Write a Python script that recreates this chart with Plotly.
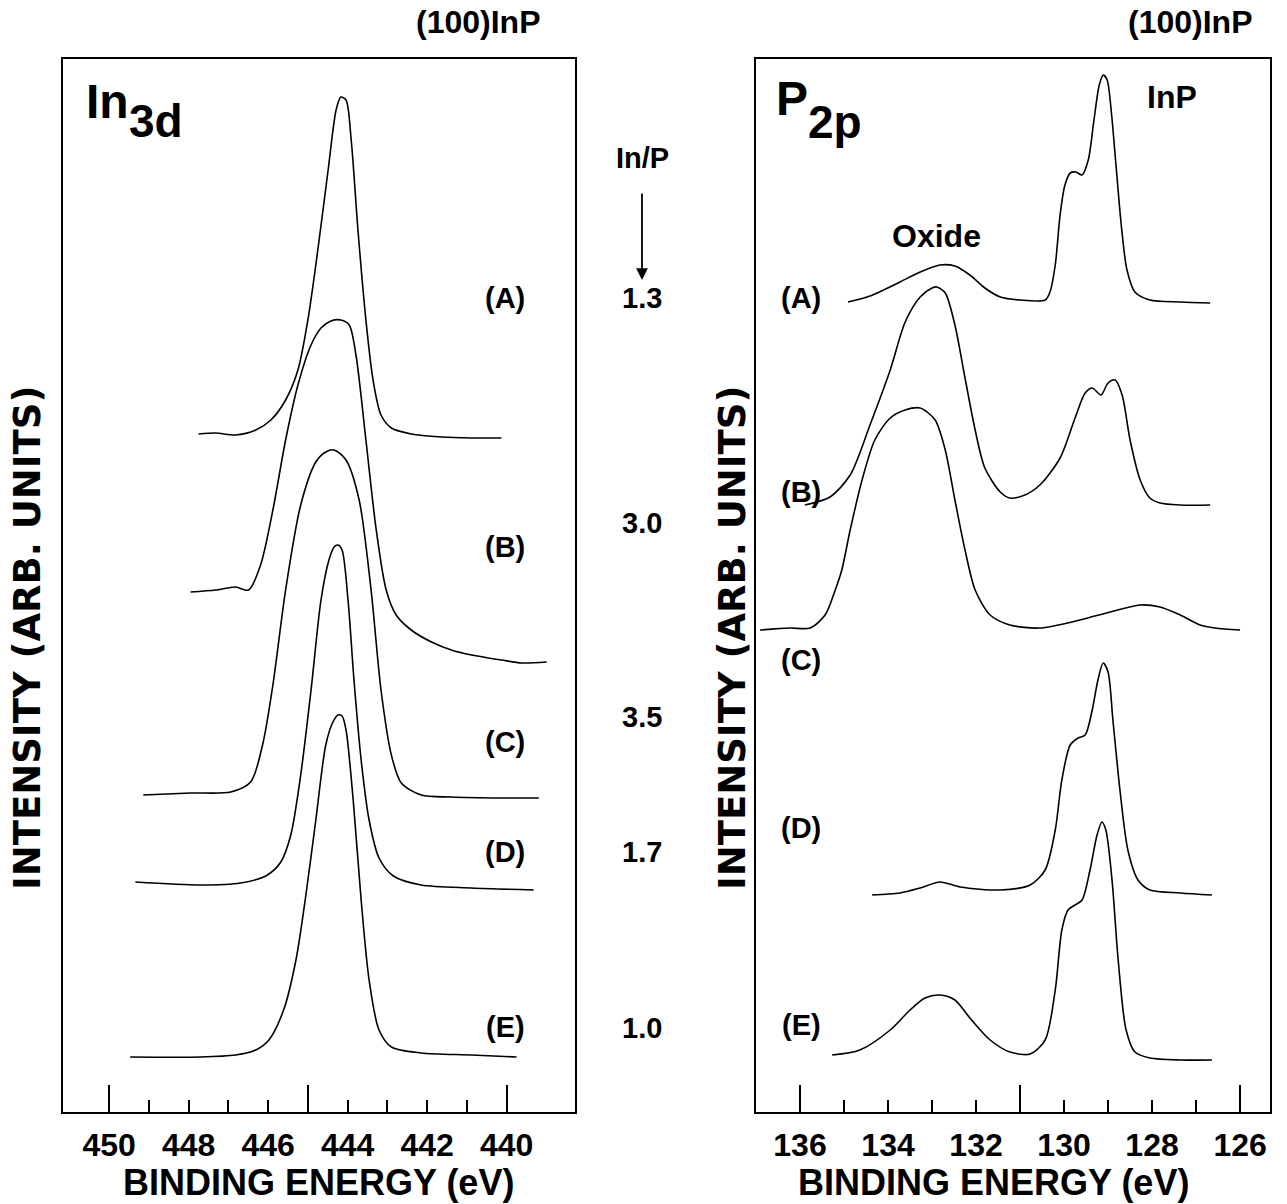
import plotly.graph_objects as go

W, H = 1287, 1204

# ---------------- In 3d panel data (binding energy eV, intensity arb.) ----------------
in_A_x = [447.75, 447.32, 446.82, 446.31, 445.93, 445.56, 445.25, 445.00, 444.75, 444.49, 444.29, 444.17,
          444.04, 443.91, 443.74, 443.54, 443.36, 443.16, 442.90, 442.40, 441.64, 440.88, 440.13]
in_A_y = [67.8, 67.9, 67.7, 68.2, 69.2, 71.2, 74.2, 79.2, 86.2, 94.2, 100.2, 101.5,
          101.2, 97.2, 88.2, 79.2, 73.2, 69.7, 68.4, 67.8, 67.5, 67.4, 67.4]

in_B_x = [447.95, 447.32, 446.82, 446.49, 446.19, 445.88, 445.56, 445.25, 444.92, 444.67, 444.42, 444.17,
          443.96, 443.79, 443.54, 443.28, 443.03, 442.78, 442.40, 441.89, 441.39, 440.88, 440.13, 439.62, 438.99]
in_B_y = [52.0, 52.2, 52.5, 52.2, 54.7, 60.2, 67.2, 72.7, 76.7, 78.4, 79.1, 79.2,
          78.7, 75.7, 67.2, 58.2, 52.2, 49.7, 48.2, 47.0, 46.2, 45.7, 45.2, 44.9, 45.0]

in_C_x = [449.14, 447.95, 446.94, 446.44, 446.14, 445.88, 445.56, 445.18, 444.80, 444.55, 444.34, 444.04,
          443.71, 443.41, 443.16, 442.90, 442.65, 442.15, 441.39, 440.13, 439.19]
in_C_y = [31.7, 31.9, 32.0, 33.0, 36.7, 42.7, 52.2, 60.7, 65.0, 66.0, 66.2, 65.2,
          61.2, 52.2, 42.2, 35.7, 32.9, 31.7, 31.5, 31.4, 31.4]

in_D_x = [449.34, 447.70, 446.69, 446.06, 445.68, 445.43, 445.18, 444.92, 444.67, 444.47, 444.34, 444.24,
          444.14, 443.99, 443.84, 443.66, 443.46, 443.21, 442.85, 442.15, 440.88, 439.32]
in_D_y = [23.0, 22.7, 22.9, 23.6, 25.0, 27.7, 33.7, 42.2, 51.2, 55.2, 56.5, 56.7,
          56.2, 51.2, 43.2, 35.2, 29.2, 25.4, 23.6, 22.7, 22.4, 22.2]

in_E_x = [449.47, 447.70, 446.82, 446.31, 445.98, 445.61, 445.30, 445.05, 444.80, 444.55, 444.37, 444.24,
          444.14, 444.04, 443.86, 443.66, 443.46, 443.21, 442.90, 442.15, 440.88, 439.75]
in_E_y = [5.5, 5.5, 5.7, 6.2, 7.2, 10.2, 15.2, 21.7, 29.2, 36.7, 39.0, 39.7,
          39.6, 38.2, 31.2, 21.2, 13.2, 8.2, 6.5, 5.9, 5.7, 5.5]

# ---------------- P 2p panel data ----------------
p_A_x = [134.91, 134.41, 133.73, 133.27, 132.82, 132.48, 132.14, 131.80, 131.45, 131.00, 130.43, 130.32,
         130.20, 130.09, 129.98, 129.86, 129.73, 129.59, 129.45, 129.32, 129.20, 129.11, 129.02, 128.93,
         128.82, 128.70, 128.57, 128.39, 128.05, 127.36, 126.68]
p_A_y = [81.0, 81.6, 83.0, 84.0, 84.7, 84.6, 83.7, 82.4, 81.5, 81.2, 81.2, 82.0,
         84.7, 89.7, 92.7, 93.9, 94.0, 93.7, 95.2, 99.2, 102.7, 103.7, 103.2, 100.2,
         94.7, 88.7, 84.2, 82.0, 81.2, 81.0, 80.9]

p_B_x = [135.89, 135.32, 134.86, 134.41, 133.95, 133.61, 133.27, 133.00, 132.89, 132.70, 132.48, 132.25,
         132.02, 131.80, 131.45, 131.23, 130.89, 130.55, 130.09, 129.75, 129.52, 129.36, 129.16, 129.00,
         128.84, 128.68, 128.50, 128.27, 128.05, 127.82, 127.36, 126.68]
p_B_y = [60.7, 61.5, 63.7, 68.7, 74.2, 79.0, 81.5, 82.4, 82.5, 81.9, 78.7, 73.4,
         68.2, 64.4, 62.0, 61.4, 61.7, 62.7, 65.4, 69.4, 71.9, 72.4, 71.7, 72.9,
         73.2, 71.7, 67.2, 63.2, 61.4, 60.9, 60.7, 60.7]

p_C_x = [136.91, 136.23, 135.77, 135.43, 135.20, 135.05, 134.86, 134.59, 134.30, 133.95, 133.61, 133.27,
         132.93, 132.70, 132.48, 132.25, 132.02, 131.68, 131.23, 130.55, 129.64, 128.95, 128.27, 127.82,
         127.36, 126.91, 126.57, 126.00]
p_C_y = [48.2, 48.4, 48.4, 49.7, 52.2, 54.2, 58.2, 63.2, 67.2, 69.4, 70.2, 70.4,
         69.2, 66.2, 61.2, 56.2, 52.2, 49.7, 48.7, 48.4, 49.2, 50.0, 50.7, 50.5,
         49.7, 48.7, 48.4, 48.2]

p_D_x = [134.36, 133.73, 133.27, 132.82, 132.36, 131.45, 130.77, 130.43, 130.20, 130.05, 129.86, 129.68,
         129.52, 129.36, 129.23, 129.11, 129.00, 128.89, 128.73, 128.55, 128.32, 128.05, 127.36, 126.64]
p_D_y = [21.7, 21.9, 22.4, 23.0, 22.5, 22.2, 22.7, 24.2, 28.2, 33.2, 36.7, 37.4,
         37.7, 40.2, 43.2, 44.9, 44.0, 39.2, 32.2, 26.2, 23.2, 22.2, 21.9, 21.7]

p_E_x = [135.27, 134.64, 133.95, 133.50, 133.16, 132.82, 132.48, 132.14, 131.68, 131.23, 130.77, 130.43,
         130.20, 130.05, 129.91, 129.75, 129.59, 129.41, 129.25, 129.14, 129.05, 128.91, 128.77, 128.59,
         128.39, 128.05, 127.36, 126.64]
p_E_y = [5.7, 6.2, 8.2, 10.2, 11.4, 11.7, 11.2, 9.4, 7.2, 6.0, 5.8, 7.2,
         12.2, 18.2, 20.2, 20.7, 21.2, 24.2, 27.7, 29.0, 28.2, 23.2, 15.2, 8.2,
         6.0, 5.4, 5.2, 5.2]

sample_labels = ["(A)", "(B)", "(C)", "(D)", "(E)"]
in_p_ratios = ["1.3", "3.0", "3.5", "1.7", "1.0"]

in_label_vals = [450, 448, 446, 444, 442, 440]
in_minor_vals = [449, 447, 445, 443, 441]
in_long_vals = [450, 445, 440]
p_label_vals = [136, 134, 132, 130, 128, 126]
p_minor_vals = [135, 133, 131, 129, 127]
p_long_vals = [136, 131, 126]

FONT = "Liberation Sans, Arial, Helvetica, sans-serif"
WIDE = "DejaVu Sans, Verdana, sans-serif"
LINE = dict(color="black", width=1.6)

def px(x):
    return x / W

def py(y):
    return 1 - y / H

fig = go.Figure()
for xs, ys in [(in_A_x, in_A_y), (in_B_x, in_B_y), (in_C_x, in_C_y), (in_D_x, in_D_y), (in_E_x, in_E_y)]:
    fig.add_trace(go.Scatter(x=xs, y=ys, mode="lines", line=dict(shape="spline", smoothing=0.8, **LINE),
                             xaxis="x", yaxis="y", showlegend=False, hoverinfo="skip"))
for xs, ys in [(p_A_x, p_A_y), (p_B_x, p_B_y), (p_C_x, p_C_y), (p_D_x, p_D_y), (p_E_x, p_E_y)]:
    fig.add_trace(go.Scatter(x=xs, y=ys, mode="lines", line=dict(shape="spline", smoothing=0.8, **LINE),
                             xaxis="x2", yaxis="y2", showlegend=False, hoverinfo="skip"))

# invisible traces so that the long-tick overlay axes are drawn
fig.add_trace(go.Scatter(x=[445], y=[-10], mode="markers", marker=dict(opacity=0), xaxis="x3", yaxis="y",
                         showlegend=False, hoverinfo="skip"))
fig.add_trace(go.Scatter(x=[131], y=[-10], mode="markers", marker=dict(opacity=0), xaxis="x4", yaxis="y2",
                         showlegend=False, hoverinfo="skip"))

dom1 = [63 / W, 575 / W]
dom2 = [756 / W, 1270 / W]
ydom = [1 - 1112 / H, 1 - 59 / H]
r1 = [451.16, 438.28]
r2 = [137.0, 125.32]

tickfont = dict(family=FONT, size=32, color="black", weight="bold")

def main_x(dom, rng, vals, minor_vals, anchor):
    return dict(domain=dom, range=rng, anchor=anchor, showgrid=False, zeroline=False,
                showline=True, linecolor="black", linewidth=2, mirror=True,
                ticks="inside", ticklen=12, tickwidth=1.8, tickcolor="black",
                tickmode="array", tickvals=vals, ticktext=[str(v) for v in vals],
                minor=dict(tickmode="array", tickvals=minor_vals, ticks="inside", ticklen=12,
                           tickwidth=1.8, tickcolor="black", showgrid=False),
                tickfont=tickfont, ticklabelstandoff=4)

def long_x(over, rng, vals, anchor):
    return dict(overlaying=over, range=rng, anchor=anchor, showgrid=False, zeroline=False,
                showline=False, ticks="inside", ticklen=27, tickwidth=1.8, tickcolor="black",
                tickmode="array", tickvals=vals, showticklabels=False)

def y_ax(dom, anchor):
    return dict(domain=dom, range=[0, 105.3], anchor=anchor, showgrid=False, zeroline=False,
                showline=True, linecolor="black", linewidth=2, mirror=True,
                ticks="", showticklabels=False)

fig.update_layout(
    width=W, height=H, margin=dict(l=0, r=0, t=0, b=0),
    paper_bgcolor="white", plot_bgcolor="white",
    xaxis=main_x(dom1, r1, in_label_vals, in_minor_vals, "y"),
    xaxis2=main_x(dom2, r2, p_label_vals, p_minor_vals, "y2"),
    xaxis3=long_x("x", r1, in_long_vals, "y"),
    xaxis4=long_x("x2", r2, p_long_vals, "y2"),
    yaxis=y_ax(ydom, "x"),
    yaxis2=y_ax(ydom, "x2"),
)

ann = []
def txt(x, y, s, size, family=FONT, xanchor="center", angle=0):
    ann.append(dict(x=px(x), y=py(y), xref="paper", yref="paper", text=s, showarrow=False,
                    font=dict(family=family, size=size, color="black", weight="bold"),
                    xanchor=xanchor, yanchor="middle", textangle=angle))

# axis titles
txt(318, 1182, "BINDING ENERGY (eV)", 36)
txt(993, 1182, "BINDING ENERGY (eV)", 36)
txt(27, 638, "INTENSITY (ARB. UNITS)", 37, family=WIDE, angle=-90)
txt(732, 638, "INTENSITY (ARB. UNITS)", 37, family=WIDE, angle=-90)

# panel headers
txt(478, 22, "(100)InP", 32)
txt(1190, 22, "(100)InP", 32)
txt(84, 101, "In", 48, xanchor="left")
txt(127, 121, "3d", 46, xanchor="left")
txt(774, 99, "P", 48, xanchor="left")
txt(806, 122, "2p", 46, xanchor="left")
txt(1145, 97, "InP", 32, xanchor="left")
txt(936, 236, "Oxide", 32)
txt(642, 158, "In/P", 29)

left_label_y = [298, 547, 742, 852, 1027]
right_label_y = [298, 492, 660, 828, 1025]
ratio_y = [298, 523, 717, 852, 1028]
for s, y in zip(sample_labels, left_label_y):
    txt(505, y, s, 29)
for s, y in zip(sample_labels, right_label_y):
    txt(801, y, s, 29)
for s, y in zip(in_p_ratios, ratio_y):
    txt(642, y, s, 29)

ann.append(dict(x=px(642), y=py(280), xref="paper", yref="paper", text="", showarrow=True,
                ax=0, ay=-88, axref="pixel", ayref="pixel", arrowhead=2, arrowsize=1.3,
                arrowwidth=1.8, arrowcolor="black"))

fig.update_layout(annotations=ann)
fig.write_html("out.html")
